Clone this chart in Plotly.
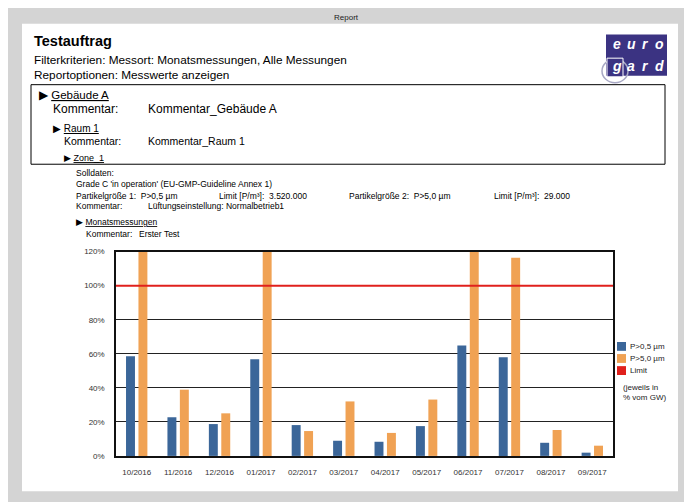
import plotly.graph_objects as go

W, H = 692, 502

# ---- data ----
months = ["10/2016", "11/2016", "12/2016", "01/2017", "02/2017", "03/2017",
          "04/2017", "05/2017", "06/2017", "07/2017", "08/2017", "09/2017"]
p05_pct = [58.6, 22.7, 18.7, 56.8, 18.1, 8.9, 8.3, 17.5, 64.9, 58.0, 7.7, 1.9]
p50_pct = [135.0, 38.9, 25.0, 130.0, 14.6, 32.0, 13.5, 33.1, 140.0, 116.4, 15.2, 6.0]
limit_pct = 100
y_tick_vals = [0, 20, 40, 60, 80, 100, 120]
y_tick_text = ["0%", "20%", "40%", "60%", "80%", "100%", "120%"]
series_names = ["P>0,5 µm", "P>5,0 µm", "Limit"]

BLUE = "#3b6699"
ORANGE = "#f0a254"
RED = "#e0201c"
FONT = "Liberation Sans, Arial, sans-serif"

# the page body has an 8px margin; positions below are screen pixels
OFF = 8


def px(x):
    return (x - OFF) / W


def py(y):
    return 1 - (y - OFF) / H


fig = go.Figure()
fig.add_bar(x=months, y=p05_pct, name=series_names[0], marker_color=BLUE,
            marker_line_width=0)
fig.add_bar(x=months, y=p50_pct, name=series_names[1], marker_color=ORANGE,
            marker_line_width=0)

shapes = []
# white page
shapes.append(dict(type="rect", xref="paper", yref="paper", x0=px(22), x1=px(678),
                   y0=py(496), y1=py(20), fillcolor="white", line_width=0, layer="below"))
# header box
shapes.append(dict(type="rect", xref="paper", yref="paper", x0=px(31), x1=px(665),
                   y0=py(163), y1=py(82), line=dict(color="black", width=1)))
# logo
shapes.append(dict(type="rect", xref="paper", yref="paper", x0=px(606), x1=px(667),
                   y0=py(73), y1=py(31), fillcolor="#3b3382", line_width=0))
shapes.append(dict(type="circle", xref="paper", yref="paper", x0=px(602), x1=px(628),
                   y0=py(80), y1=py(56), fillcolor="rgba(0,0,0,0)",
                   line=dict(color="#a8a8c4", width=1.5)))
shapes.append(dict(type="rect", xref="paper", yref="paper", x0=px(607), x1=px(623),
                   y0=py(74), y1=py(55), fillcolor="#3b3382",
                   line=dict(color="white", width=1)))
# limit line
shapes.append(dict(type="line", xref="x domain", yref="y", x0=0, x1=1,
                   y0=limit_pct, y1=limit_pct, line=dict(color=RED, width=2),
                   layer="above"))
# legend swatches
for i, c in enumerate([BLUE, ORANGE, RED]):
    y0 = 344 + i * 12.3
    shapes.append(dict(type="rect", xref="paper", yref="paper", x0=px(617), x1=px(626),
                       y0=py(y0 + 9), y1=py(y0), fillcolor=c, line_width=0))

ann = []


def txt(x, y, s, size, color="black", anchor="left", bold=False, family=FONT):
    if bold:
        s = "<b>" + s + "</b>"
    ann.append(dict(x=px(x), y=py(y), xref="paper", yref="paper", text=s,
                    showarrow=False, xanchor=anchor, yanchor="middle",
                    font=dict(size=size, color=color, family=family), borderpad=0))


txt(346, 14, "Report", 8, "#222", anchor="center")
txt(33, 38, "Testauftrag", 14.5, bold=True)
txt(33, 57, "Filterkriterien: Messort: Monatsmessungen, Alle Messungen", 11.8)
txt(33, 72, "Reportoptionen: Messwerte anzeigen", 11.8)

# logo letters
for j, ch in enumerate("euro"):
    txt(617 + j * 14, 41, "<i>" + ch + "</i>", 14, "white", anchor="center", bold=True)
for j, ch in enumerate("gard"):
    txt(617 + j * 14, 63, "<i>" + ch + "</i>", 14, "white", anchor="center", bold=True)

txt(38, 93, "▶ <u>Gebäude A</u>", 11.5)
txt(52, 107, "Kommentar:", 12)
txt(147, 107, "Kommentar_Gebäude A", 12)
txt(52, 127, "▶ <u>Raum 1</u>", 10)
txt(63, 139, "Kommentar:", 10.5)
txt(147, 139, "Kommentar_Raum 1", 10.5)
txt(63, 157, "▶ <u>Zone_1</u>", 9)

txt(75, 172, "Solldaten:", 8.5)
txt(75, 183, "Grade C 'in operation' (EU-GMP-Guideline Annex 1)", 8.5)
txt(75, 195, "Partikelgröße 1:  P>0,5 µm", 8.5)
txt(218, 195, "Limit [P/m³]:  3.520.000", 8.5)
txt(348, 195, "Partikelgröße 2:  P>5,0 µm", 8.5)
txt(493, 195, "Limit [P/m³]:  29.000", 8.5)
txt(75, 206, "Kommentar:", 8.5)
txt(147, 206, "Lüftungseinstellung: Normalbetrieb1", 8.5)
txt(75, 222, "▶ <u>Monatsmessungen</u>", 8.5)
txt(85, 234, "Kommentar:", 8.5)
txt(138, 234, "Erster Test", 8.5)

# legend texts
for i, n in enumerate(series_names):
    txt(629, 348.5 + i * 12.3, n, 8, "#222")
txt(622, 390, "(jeweils in", 8, "#222")
txt(622, 401, "% vom GW)", 8, "#222")

fig.update_layout(
    width=W, height=H,
    margin=dict(l=0, r=0, t=0, b=0),
    paper_bgcolor="#d4d4d4",
    plot_bgcolor="rgba(0,0,0,0)",
    showlegend=False,
    barmode="group",
    bargap=0.40,
    bargroupgap=0.28,
    font=dict(family=FONT),
    shapes=shapes,
    annotations=ann,
    xaxis=dict(domain=[px(116), px(613)], showline=True, mirror=True,
               linecolor="#111", linewidth=1.5, ticks="", showgrid=False,
               tickfont=dict(size=8, color="#333", family=FONT),
               ticklabelstandoff=8, fixedrange=True),
    yaxis=dict(domain=[py(460), py(252)], range=[0, 120], tickvals=y_tick_vals,
               ticktext=y_tick_text, showgrid=True, gridcolor="#222", gridwidth=1,
               showline=True, mirror=True, linecolor="#111", linewidth=1.5,
               zeroline=False, ticks="", ticklabelstandoff=8,
               tickfont=dict(size=8, color="#333", family=FONT), fixedrange=True),
)

fig.write_html("out.html")
